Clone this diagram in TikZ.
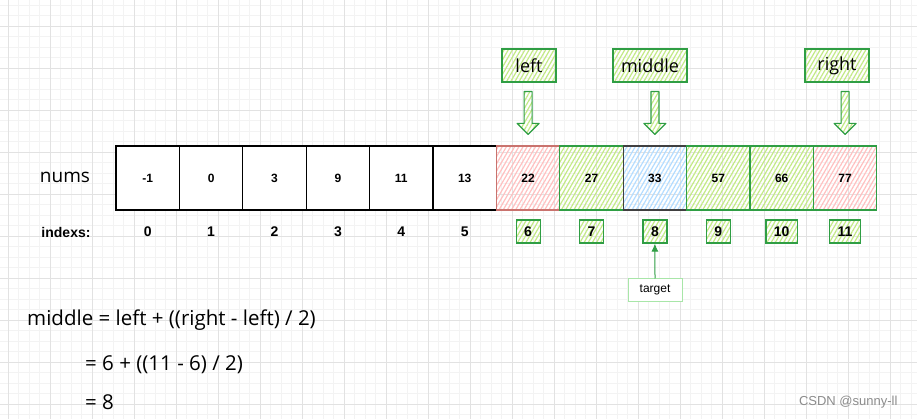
\documentclass[tikz,border=0pt]{standalone}
\usepackage{fontspec}
\setmainfont{Liberation Sans}
\newfontfamily\handfont{Open Sans}
\usetikzlibrary{calc,patterns.meta,arrows.meta}
\definecolor{sketchgreen}{HTML}{2F9E44}
\definecolor{limehatch}{HTML}{C3EA85}
\definecolor{redhatch}{HTML}{FFC0C0}
\definecolor{bluehatch}{HTML}{B3DCFF}
\definecolor{leftred}{HTML}{C9736E}
\definecolor{targetframe}{HTML}{A8E6A8}
\definecolor{gridminor}{HTML}{F3F3F3}
\definecolor{gridmajor}{HTML}{E2E2E2}
\tikzset{
  hatch/.style={pattern={Lines[angle=60,distance=3.6pt,line width=1.2pt]}, pattern color=#1},
  cellbox/.style={draw=black, line width=1.2pt, fill=white, minimum width=63.4pt, minimum height=64pt, inner sep=0pt, font=\bfseries\fontsize{12}{14}\selectfont},
  idxnum/.style={font=\bfseries\fontsize{14}{16}\selectfont},
  idxbox/.style={draw=sketchgreen, line width=1.2pt, hatch=limehatch, minimum width=24pt, minimum height=23pt, inner xsep=8pt, inner ysep=0pt, font=\bfseries\fontsize{14}{16}\selectfont},
  namebox/.style={draw=sketchgreen, line width=1.2pt, hatch=limehatch, minimum height=33pt, inner sep=0pt, font=\handfont\fontsize{18}{22}\selectfont},
  blockarrow/.style={draw=sketchgreen, line width=1.2pt, line join=round, hatch=limehatch},
  formula/.style={anchor=west, inner sep=0pt, font=\handfont\fontsize{20.5}{24}\selectfont}
}
% hollow down arrow from a name box to a cell
\def\blockarrow#1#2{%
  \path (#2.north) ++(0,-11) coordinate (tip) (#1.south -| tip) ++(0,9) coordinate (top);
  \draw[blockarrow] ($(top)+(-4,0)$) -- ($(top)+(4,0)$) -- ($(tip)+(4,-11)$) -- ($(tip)+(11,-11)$) -- (tip)
    -- ($(tip)+(-11,-11)$) -- ($(tip)+(-4,-11)$) -- cycle;}

\begin{document}
\begin{tikzpicture}[x=1pt, y=-1pt]
		%%%%% START %%%%%
		\useasboundingbox[fill=white] (0,0) rectangle (917,419);
		
		\foreach \k in {0,...,87} \draw[gridminor, line width=0.8pt] ({-2.2+10.5*\k},0) -- ({-2.2+10.5*\k},419);
		\foreach \k in {0,...,39} \draw[gridminor, line width=0.8pt] (0,{5.3+10.5*\k}) -- (917,{5.3+10.5*\k});
		\foreach \k in {0,...,21} \draw[gridmajor, line width=1pt] ({8.3+42*\k},0) -- ({8.3+42*\k},419);
		\foreach \k in {0,...,9} \draw[gridmajor, line width=1pt] (0,{26.3+42*\k}) -- (917,{26.3+42*\k});
		
		\node[font=\handfont\fontsize{19}{22}\selectfont] (nums) at (65, 177) {nums};
		\node[idxnum] (indexs) at (66, 232) {indexs:};
		
		\node[cellbox] (c0) at (147.7, 178) {-1};
		\node[cellbox] (c1) at (211.1, 178) {0};
		\node[cellbox] (c2) at (274.5, 178) {3};
		\node[cellbox] (c3) at (337.9, 178) {9};
		\node[cellbox] (c4) at (401.3, 178) {11};
		\node[cellbox] (c5) at (464.7, 178) {13};
		\node[cellbox, draw=leftred, fill=none, hatch=redhatch] (c6) at (528.1, 178) {22};
		\node[cellbox, draw=sketchgreen, fill=none, hatch=limehatch] (c7) at (591.5, 178) {27};
		\node[cellbox, draw=black!75, fill=none, hatch=bluehatch] (c8) at (654.9, 178) {33};
		\node[cellbox, draw=sketchgreen, fill=none, hatch=limehatch] (c9) at (718.3, 178) {57};
		\node[cellbox, draw=sketchgreen, fill=none, hatch=limehatch] (c10) at (781.7, 178) {66};
		\node[cellbox, draw=sketchgreen, fill=none, hatch=redhatch] (c11) at (845.1, 178) {77};
		
		\node[idxnum] (i0) at (147.7, 232) {0};
		\node[idxnum] (i1) at (211.1, 232) {1};
		\node[idxnum] (i2) at (274.5, 232) {2};
		\node[idxnum] (i3) at (337.9, 232) {3};
		\node[idxnum] (i4) at (401.3, 232) {4};
		\node[idxnum] (i5) at (464.7, 232) {5};
		\node[idxbox] (i6) at (528.1, 231.5) {6};
		\node[idxbox] (i7) at (591.5, 231.5) {7};
		\node[idxbox] (i8) at (654.9, 231.5) {8};
		\node[idxbox] (i9) at (718.3, 231.5) {9};
		\node[idxbox] (i10) at (781.7, 231.5) {10};
		\node[idxbox] (i11) at (845.1, 231.5) {11};
		
		\node[namebox, minimum width=54pt] (left) at (529, 65.5) {left};
		\node[namebox, minimum width=74pt] (middle) at (650, 65.5) {middle};
		\node[namebox, minimum width=64pt] (right) at (837, 65.5) {right};
		
		\blockarrow{left}{c6}
		\blockarrow{middle}{c8}
		\blockarrow{right}{c11}
		
		\node[draw=targetframe, line width=1pt, fill=white, minimum width=54pt, minimum height=22pt, inner sep=0pt, font=\fontsize{12}{14}\selectfont] (target) at (655, 290) {target};
		\draw[sketchgreen, line width=1pt, -{Latex[length=8pt,width=7pt]}] (target.north) -- (i8.south);
		
		\node[formula] (f1) at (27, 320) {middle = left + ((right - left) / 2)};
		\node[formula] (f2) at (85, 365) {= 6 + ((11 - 6) / 2)};
		\node[formula] (f3) at (85, 402) {= 8};
		
		\node[anchor=east, text=black!45, font=\fontsize{13}{15}\selectfont] (mark) at (901, 402) {CSDN @sunny-ll};
		%%%%% END %%%%%
\end{tikzpicture}
\end{document}
